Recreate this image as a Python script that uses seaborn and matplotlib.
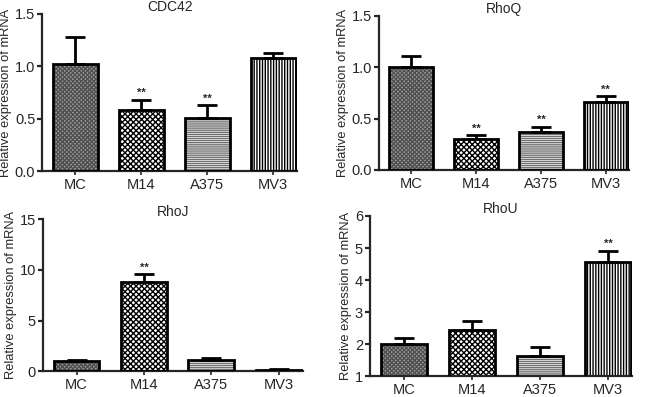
import pandas as pd
import matplotlib
matplotlib.use("Agg")
import matplotlib.pyplot as plt
import seaborn as sns

# values (mean and upper SEM)
cells = ["MC", "M14", "A375", "MV3"]
genes = ["CDC42", "RhoQ", "RhoJ", "RhoU"]

cdc42_mean = [1.02, 0.58, 0.51, 1.08]
cdc42_err = [0.26, 0.10, 0.12, 0.05]
rhoq_mean = [1.00, 0.30, 0.37, 0.66]
rhoq_err = [0.11, 0.04, 0.05, 0.06]
rhoj_mean = [1.0, 8.8, 1.1, 0.15]
rhoj_err = [0.1, 0.8, 0.2, 0.05]
rhou_mean = [2.0, 2.45, 1.65, 4.55]
rhou_err = [0.2, 0.28, 0.27, 0.37]

# which bars carry a ** mark
cdc42_sig = [False, True, True, False]
rhoq_sig = [False, True, True, True]
rhoj_sig = [False, True, False, False]
rhou_sig = [False, False, False, True]

y_limits = [(0, 1.5), (0, 1.5), (0, 15), (1, 6)]
y_ticks = [[0.0, 0.5, 1.0, 1.5], [0.0, 0.5, 1.0, 1.5], [0, 5, 10, 15], [1, 2, 3, 4, 5, 6]]
y_fmt = ["{:.1f}", "{:.1f}", "{:d}", "{:d}"]

means = [cdc42_mean, rhoq_mean, rhoj_mean, rhou_mean]
errs = [cdc42_err, rhoq_err, rhoj_err, rhou_err]
sigs = [cdc42_sig, rhoq_sig, rhoj_sig, rhou_sig]

sns.set_theme(style="ticks")
plt.rcParams["font.family"] = ["Liberation Sans", "DejaVu Sans"]
plt.rcParams["hatch.linewidth"] = 1.0

# bar fill styles per cell line
faces = ["#a0a0a0", "white", "white", "white"]
hatches = ["xxxxxxxx", "xxxxxx", "--------", "||||||"]
hatch_cols = ["#505050", "black", "#707070", "black"]

fig = plt.figure(figsize=(6.5, 3.97), dpi=100)
boxes = [
    [0.065, 0.569, 0.392, 0.396],
    [0.583, 0.572, 0.385, 0.388],
    [0.066, 0.065, 0.400, 0.383],
    [0.569, 0.052, 0.404, 0.404],
]

for k in range(4):
    ax = fig.add_axes(boxes[k])
    df = pd.DataFrame({"cell": cells, "value": means[k]})
    sns.barplot(data=df, x="cell", y="value", order=cells, ax=ax,
                width=0.68, color="white", errorbar=None)
    for i, bar in enumerate(ax.patches):
        bar.set_facecolor(faces[i])
        bar.set_hatch(hatches[i])
        bar.set_edgecolor(hatch_cols[i])
        bar.set_linewidth(0)
        # black frame drawn on top of the hatched fill
        ax.add_patch(plt.Rectangle(bar.get_xy(), bar.get_width(), bar.get_height(),
                                   fill=False, edgecolor="black", linewidth=2, zorder=3))
    x = list(range(len(cells)))
    ax.errorbar(x, means[k], yerr=[[0] * 4, errs[k]], fmt="none", ecolor="black",
                elinewidth=2, capsize=7, capthick=2, zorder=2)
    for i in x:
        if sigs[k][i]:
            top = means[k][i] + errs[k][i]
            span = y_limits[k][1] - y_limits[k][0]
            ax.text(i, top + span * 0.01, "**", ha="center", va="bottom",
                    fontsize=8, fontweight="bold")

    ax.set_xlim(-0.5, 3.36)
    ax.set_ylim(*y_limits[k])
    ax.set_yticks(y_ticks[k])
    ax.set_yticklabels([y_fmt[k].format(v) for v in y_ticks[k]], fontsize=10.5)
    ax.set_xticks(x)
    ax.set_xticklabels(cells, fontsize=10.5)
    ax.set_xlabel("")
    ax.set_ylabel("Relative expression of mRNA", fontsize=9.3, labelpad=2)
    ax.set_title(genes[k], fontsize=10, pad=1)
    sns.despine(ax=ax)
    for s in ["left", "bottom"]:
        ax.spines[s].set_linewidth(1.6)
    ax.tick_params(axis="y", width=1.6, length=3.5, pad=1.5)
    ax.tick_params(axis="x", width=1.2, length=3, pad=2)

fig.savefig("out.png", dpi=100)
